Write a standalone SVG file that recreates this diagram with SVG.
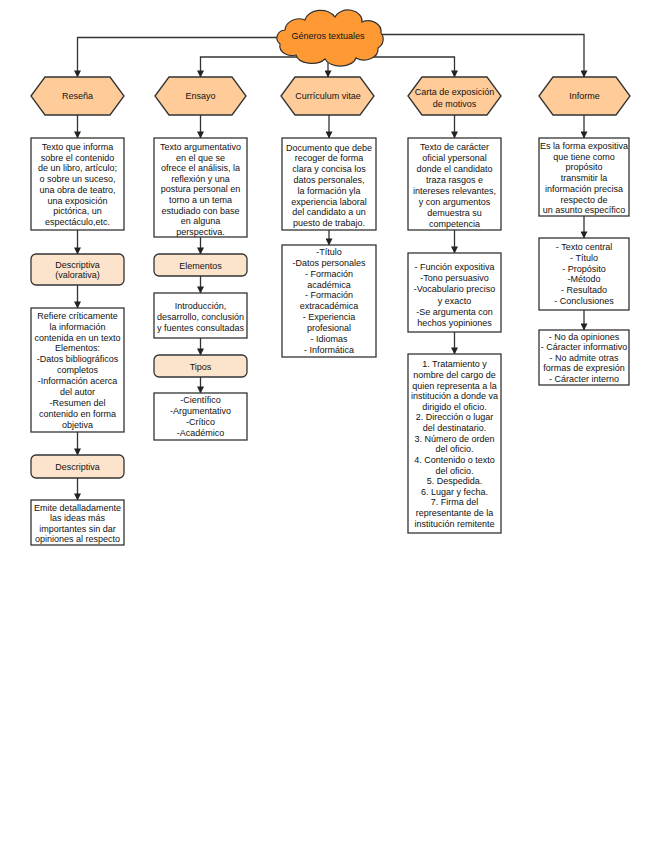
<svg xmlns="http://www.w3.org/2000/svg" width="655" height="848" viewBox="0 0 655 848">
<defs>
<marker id="ah" viewBox="0 0 8 8" refX="7.5" refY="4" markerWidth="7" markerHeight="7" markerUnits="userSpaceOnUse" orient="auto">
<path d="M0,0 L8,4 L0,8 Z" fill="#222"/>
</marker>
<style>
text{font-family:"Liberation Sans",Arial,sans-serif;font-size:9px;fill:#111;text-anchor:middle}
.hex{fill:#FFCC99;stroke:#333;stroke-width:1.3}
.box{fill:#fff;stroke:#333;stroke-width:1.3}
.rbox{fill:#FCE4CC;stroke:#333;stroke-width:1.3}
.cloud{fill:#FF9933;stroke:#333;stroke-width:1.2}
.con path{fill:none;stroke:#333;stroke-width:1.3;marker-end:url(#ah)}
</style>
</defs>
<rect width="655" height="848" fill="#fff"/>

<g class="con" id="connectors">
<path d="M279,37.5 H77.5 V77"/>
<path d="M380,34.5 H584 V77"/>
<path d="M328,57 H200.5 V77"/>
<path d="M328,57 H454.5 V77"/>
<path d="M328,57 V77"/>
<path d="M77.5,115 V138"/>
<path d="M77.5,230 V254"/>
<path d="M77.5,285 V308"/>
<path d="M77.5,432 V455"/>
<path d="M77.5,478 V500"/>
<path d="M200.5,115 V138"/>
<path d="M200.5,237 V254"/>
<path d="M200.5,276 V293"/>
<path d="M200.5,338 V355"/>
<path d="M200.5,377 V393"/>
<path d="M329,115 V138"/>
<path d="M329,230 V245"/>
<path d="M454.5,115 V138"/>
<path d="M454.5,230 V253"/>
<path d="M454.5,332 V354"/>
<path d="M584,115 V138"/>
<path d="M584,216 V238"/>
<path d="M584,310 V330"/>
</g>

<g id="root">
<path class="cloud" d="M285,30 A14,12 0 0 1 305,20 A16,12 0 0 1 335,17 A14,11 0 0 1 362,22 A13,11 0 0 1 381,33 A10,10 0 0 1 378,48 A14,11 0 0 1 356,58 A16,10 0 0 1 325,59 A16,10 0 0 1 296,55 A12,10 0 0 1 280,44 A9,8 0 0 1 285,30 Z"/>
<text x="328" y="39">Géneros textuales</text>
</g>

<g id="resena">
<polygon class="hex" points="31,96 45,77 110,77 124,96 110,115 45,115"/>
<text x="77.5" y="99">Reseña</text>
</g>
<g id="resena-def">
<rect class="box" x="31" y="138" width="93" height="92"/>
<text x="77.5" y="150">Texto que informa</text>
<text x="77.5" y="160.7">sobre el contenido</text>
<text x="77.5" y="171.4">de un libro, artículo;</text>
<text x="77.5" y="182.1">o sobre un suceso,</text>
<text x="77.5" y="192.8">una obra de teatro,</text>
<text x="77.5" y="203.5">una exposición</text>
<text x="77.5" y="214.2">pictórica, un</text>
<text x="77.5" y="224.9">espectáculo,etc.</text>
</g>
<g id="resena-valorativa">
<rect class="rbox" x="31" y="254" width="93" height="31" rx="5"/>
<text x="77.5" y="267.5">Descriptiva</text>
<text x="77.5" y="278">(valorativa)</text>
</g>
<g id="resena-valorativa-def">
<rect class="box" x="31" y="308" width="93" height="124"/>
<text x="77.5" y="318.7">Refiere críticamente</text>
<text x="77.5" y="329.6">la información</text>
<text x="77.5" y="340.5">contenida en un texto</text>
<text x="77.5" y="351.4">Elementos:</text>
<text x="77.5" y="362.3">-Datos bibliográficos</text>
<text x="77.5" y="373.2">completos</text>
<text x="77.5" y="384.1">-Información acerca</text>
<text x="77.5" y="395">del autor</text>
<text x="77.5" y="405.9">-Resumen del</text>
<text x="77.5" y="416.8">contenido en forma</text>
<text x="77.5" y="427.7">objetiva</text>
</g>
<g id="resena-descriptiva">
<rect class="rbox" x="31" y="455" width="93" height="23" rx="5"/>
<text x="77.5" y="470">Descriptiva</text>
</g>
<g id="resena-descriptiva-def">
<rect class="box" x="31" y="500" width="93" height="45"/>
<text x="77.5" y="510.5">Emite detalladamente</text>
<text x="77.5" y="521">las ideas más</text>
<text x="77.5" y="531.5">importantes sin dar</text>
<text x="77.5" y="542">opiniones al respecto</text>
</g>

<g id="ensayo">
<polygon class="hex" points="155,96 169,77 232,77 246,96 232,115 169,115"/>
<text x="200.5" y="99">Ensayo</text>
</g>
<g id="ensayo-def">
<rect class="box" x="154" y="138" width="93" height="99"/>
<text x="200.5" y="150">Texto argumentativo</text>
<text x="200.5" y="160.6">en el que se</text>
<text x="200.5" y="171.2">ofrece el análisis, la</text>
<text x="200.5" y="181.8">reflexión y una</text>
<text x="200.5" y="192.4">postura personal en</text>
<text x="200.5" y="203">torno a un tema</text>
<text x="200.5" y="213.6">estudiado con base</text>
<text x="200.5" y="224.2">en alguna</text>
<text x="200.5" y="234.8">perspectiva.</text>
</g>
<g id="ensayo-elementos">
<rect class="rbox" x="154" y="254" width="93" height="22" rx="5"/>
<text x="200.5" y="269">Elementos</text>
</g>
<g id="ensayo-elementos-def">
<rect class="box" x="154" y="293" width="93" height="45"/>
<text x="200.5" y="308.5">Introducción,</text>
<text x="200.5" y="319.5">desarrollo, conclusión</text>
<text x="200.5" y="330.5">y fuentes consultadas</text>
</g>
<g id="ensayo-tipos">
<rect class="rbox" x="154" y="355" width="93" height="22" rx="5"/>
<text x="200.5" y="369.5">Tipos</text>
</g>
<g id="ensayo-tipos-def">
<rect class="box" x="154" y="393" width="93" height="47"/>
<text x="200.5" y="402.5">-Científico</text>
<text x="200.5" y="413.5">-Argumentativo</text>
<text x="200.5" y="424.5">-Crítico</text>
<text x="200.5" y="435.5">-Académico</text>
</g>

<g id="cv">
<polygon class="hex" points="281,96 295,77 360,77 374,96 360,115 295,115"/>
<text x="328" y="99">Currículum vitae</text>
</g>
<g id="cv-def">
<rect class="box" x="282" y="138" width="94" height="92"/>
<text x="329" y="150.5">Documento que debe</text>
<text x="329" y="161.3">recoger de forma</text>
<text x="329" y="172.1">clara y concisa los</text>
<text x="329" y="182.9">datos personales,</text>
<text x="329" y="193.7">la formación  yla</text>
<text x="329" y="204.5">experiencia laboral</text>
<text x="329" y="215.3">del candidato a un</text>
<text x="329" y="226.1">puesto de trabajo.</text>
</g>
<g id="cv-list">
<rect class="box" x="282" y="245" width="94" height="112"/>
<text x="329" y="255">-Título</text>
<text x="329" y="265.8">-Datos personales</text>
<text x="329" y="276.7">- Formación</text>
<text x="329" y="287.5">académica</text>
<text x="329" y="298.4">- Formación</text>
<text x="329" y="309.2">extracadémica</text>
<text x="329" y="320.1">- Experiencia</text>
<text x="329" y="330.9">profesional</text>
<text x="329" y="341.8">- Idiomas</text>
<text x="329" y="352.6">- Informática</text>
</g>

<g id="carta">
<polygon class="hex" points="408,96 422,77 487,77 501,96 487,115 422,115"/>
<text x="454.5" y="94.5">Carta de exposición</text>
<text x="454.5" y="106.5">de motivos</text>
</g>
<g id="carta-def">
<rect class="box" x="408" y="138" width="93" height="92"/>
<text x="454.5" y="150">Texto de carácter</text>
<text x="454.5" y="161">oficial ypersonal</text>
<text x="454.5" y="172">donde el candidato</text>
<text x="454.5" y="183">traza rasgos e</text>
<text x="454.5" y="194">intereses relevantes,</text>
<text x="454.5" y="205">y con argumentos</text>
<text x="454.5" y="216">demuestra su</text>
<text x="454.5" y="227">competencia</text>
</g>
<g id="carta-rasgos">
<rect class="box" x="408" y="253" width="93" height="79"/>
<text x="454.5" y="270">- Función expositiva</text>
<text x="454.5" y="281.2">-Tono persuasivo</text>
<text x="454.5" y="292.4">-Vocabulario preciso</text>
<text x="454.5" y="303.6">y exacto</text>
<text x="454.5" y="314.8">-Se argumenta con</text>
<text x="454.5" y="326">hechos yopiniones</text>
</g>
<g id="carta-partes">
<rect class="box" x="408" y="354" width="93" height="179"/>
<text x="454.5" y="367.3">1. Tratamiento y</text>
<text x="454.5" y="377.9">nombre del cargo de</text>
<text x="454.5" y="388.5">quien representa a la</text>
<text x="454.5" y="399.2">institución a donde va</text>
<text x="454.5" y="409.8">dirigido el oficio.</text>
<text x="454.5" y="420.4">2. Dirección o lugar</text>
<text x="454.5" y="431">del destinatario.</text>
<text x="454.5" y="441.6">3. Número de orden</text>
<text x="454.5" y="452.3">del oficio.</text>
<text x="454.5" y="462.9">4. Contenido o texto</text>
<text x="454.5" y="473.5">del oficio.</text>
<text x="454.5" y="484.1">5. Despedida.</text>
<text x="454.5" y="494.7">6. Lugar y fecha.</text>
<text x="454.5" y="505.4">7. Firma del</text>
<text x="454.5" y="516">representante de la</text>
<text x="454.5" y="526.6">institución remitente</text>
</g>

<g id="informe">
<polygon class="hex" points="539,96 553,77 616,77 630,96 616,115 553,115"/>
<text x="584.5" y="99">Informe</text>
</g>
<g id="informe-def">
<rect class="box" x="539" y="138" width="90" height="78"/>
<text x="584" y="149">Es la forma expositiva</text>
<text x="584" y="159.7">que tiene como</text>
<text x="584" y="170.4">propósito</text>
<text x="584" y="181.1">transmitir la</text>
<text x="584" y="191.8">información precisa</text>
<text x="584" y="202.5">respecto de</text>
<text x="584" y="213.2">un asunto específico</text>
</g>
<g id="informe-partes">
<rect class="box" x="539" y="238" width="90" height="72"/>
<text x="584" y="250">- Texto central</text>
<text x="584" y="260.8">- Título</text>
<text x="584" y="271.6">- Propósito</text>
<text x="584" y="282.4">-Método</text>
<text x="584" y="293.2">- Resultado</text>
<text x="584" y="304">- Conclusiones</text>
</g>
<g id="informe-rasgos">
<rect class="box" x="539" y="330" width="90" height="55"/>
<text x="584" y="340">- No da opiniones</text>
<text x="584" y="350.4">- Cáracter informativo</text>
<text x="584" y="360.8">- No admite otras</text>
<text x="584" y="371.2">formas de expresión</text>
<text x="584" y="381.6">- Cáracter interno</text>
</g>
</svg>
